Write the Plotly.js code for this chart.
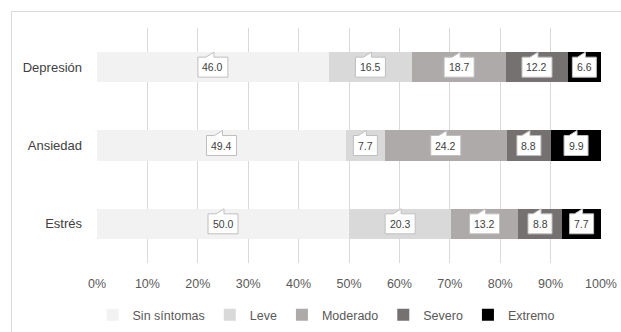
<!DOCTYPE html>
<html>
<head>
<meta charset="utf-8">
<script src="https://cdn.plot.ly/plotly-3.0.1.min.js"></script>
<style>
  html, body { margin: 0; padding: 0; width: 621px; height: 332px; overflow: hidden; background: #fff; }
  #frame { position: absolute; left: 11px; top: 11px; width: 700px; height: 400px; border: 1px solid #d9d9d9; box-sizing: border-box; }
  #chart { position: absolute; left: 0; top: 0; width: 621px; height: 332px; }
</style>
</head>
<body>
<div id="frame"></div>
<div id="chart"></div>
<script>
// ---- data ----
const categories = ["Depresión", "Ansiedad", "Estrés"];
const seriesNames = ["Sin síntomas", "Leve", "Moderado", "Severo", "Extremo"];
const sinSintomas = [46.0, 49.4, 50.0];
const leve = [16.5, 7.7, 20.3];
const moderado = [18.7, 24.2, 13.2];
const severo = [12.2, 8.8, 8.8];
const extremo = [6.6, 9.9, 7.7];
const xTickVals = [0, 10, 20, 30, 40, 50, 60, 70, 80, 90, 100];

// ---- styles ----
const seriesValues = [sinSintomas, leve, moderado, severo, extremo];
const colors = ["#f2f2f2", "#d9d9d9", "#aeaaaa", "#767171", "#000000"];
const FONT = "Liberation Sans, Arial, sans-serif";

const traces = seriesNames.map((name, i) => ({
  type: "bar",
  orientation: "h",
  name: name,
  x: seriesValues[i],
  y: categories,
  marker: { color: colors[i], line: { width: 0 } },
  width: 0.39,
  hoverinfo: "skip"
}));

// callout labels
const shapes = [];
const annotations = [];
const cum = categories.map(() => 0);
const labelFontSize = 10.5;
function textWidth(s) {
  let w = 0;
  for (const ch of s) w += (ch === "." ? 0.28 : 0.556) * labelFontSize;
  return w;
}
seriesValues.forEach((vals) => {
  vals.forEach((v, j) => {
    const xc = cum[j] + v / 2;
    cum[j] += v;
    const txt = v.toFixed(1);
    const hw = Math.round(textWidth(txt) / 2 + 4.5);
    shapes.push({
      type: "path",
      xref: "x", yref: "y",
      xsizemode: "pixel", ysizemode: "pixel",
      xanchor: xc, yanchor: categories[j],
      path: `M ${-hw},-10 H ${hw} V 10 H 1 V 15 L -7,10 H ${-hw} Z`,
      fillcolor: "#ffffff",
      line: { color: "#bfbfbf", width: 1 },
      layer: "above"
    });
    annotations.push({
      x: xc, y: categories[j], xref: "x", yref: "y",
      text: txt, showarrow: false,
      font: { family: FONT, size: labelFontSize, color: "#404040" }
    });
  });
});

const layout = {
  width: 621, height: 332,
  margin: { l: 97, r: 20, t: 28, b: 69 },
  paper_bgcolor: "rgba(0,0,0,0)",
  plot_bgcolor: "rgba(0,0,0,0)",
  barmode: "stack",
  bargap: 0.61,
  font: { family: FONT, color: "#595959", size: 12.5 },
  showlegend: true,
  legend: {
    orientation: "h",
    xref: "container", yref: "container",
    x: 0.525, xanchor: "center",
    y: 0.051, yanchor: "middle",
    traceorder: "normal",
    font: { family: FONT, size: 12.5, color: "#595959" },
    itemwidth: 30,
    itemclick: false
  },
  xaxis: {
    range: [0, 100],
    tickvals: xTickVals,
    ticktext: xTickVals.map(v => v + "%"),
    showgrid: true,
    gridcolor: "#d9d9d9",
    gridwidth: 1,
    zeroline: false,
    showline: false,
    ticks: "",
    ticklabelstandoff: 11,
    tickfont: { family: FONT, size: 12.5, color: "#595959" },
    fixedrange: true
  },
  yaxis: {
    type: "category",
    categoryorder: "array",
    categoryarray: categories,
    autorange: "reversed",
    showgrid: false,
    zeroline: false,
    showline: false,
    ticks: "",
    ticklabelstandoff: 14,
    tickfont: { family: FONT, size: 13, color: "#404040" },
    fixedrange: true
  },
  shapes: shapes,
  annotations: annotations
};

Plotly.newPlot("chart", traces, layout, { displayModeBar: false, staticPlot: true });
</script>
</body>
</html>
